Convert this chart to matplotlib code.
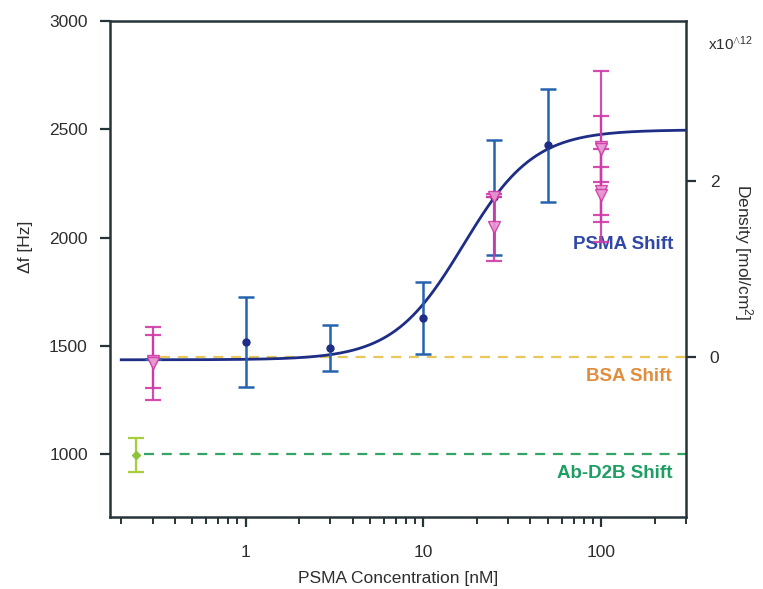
import numpy as np
import matplotlib
matplotlib.use("Agg")
import matplotlib.pyplot as plt

plt.rcParams['font.family'] = ['Liberation Sans', 'DejaVu Sans']
plt.rcParams['mathtext.fontset'] = 'custom'
plt.rcParams['mathtext.rm'] = 'Liberation Sans'
plt.rcParams['mathtext.it'] = 'Liberation Sans'

# PSMA binding (frequency shift, Hz)
psma_conc = [0.3, 1, 3, 10, 25, 50]
psma_shift = [1438, 1518, 1490, 1628, 2186, 2426]
psma_err = [0, 208, 106, 166, 267, 261]

# Replicate measurements (density, shown on the Hz scale)
rep_conc = [0.3, 0.3, 25, 25, 100, 100, 100, 100]
rep_shift = [1430, 1420, 2186, 2047, 2420, 2410, 2215, 2195]
rep_err = [122, 168, 0, 155, 350, 152, 110, 215]

# Ab-D2B control
ab_conc = [0.243]
ab_shift = [995]
ab_err = [78]

# Reference levels
bsa_level = 1450
ab_level = 1000

# Hill fit of the PSMA response
fit_base = 1436
fit_amp = 1062
fit_k = 16.8
fit_n = 2.19

# Right-hand density axis: Hz value = offset + scale * density(1e12 mol/cm^2)
dens_offset = 1447
dens_scale = 407.5
dens_ticks = [0, 2]

x_ticks = [1, 10, 100]
y_ticks = [1000, 1500, 2000, 2500, 3000]

spine_c = '#26343a'
text_c = '#2e2e2e'
navy = '#1e2d86'
blue = '#2563ad'
pink = '#cf3aa6'
pink_face = '#e99ad3'

fig = plt.figure(figsize=(7.63, 5.89), dpi=100)
ax = fig.add_axes([0.1442, 0.1222, 0.755, 0.842])

ax.set_xscale('log')
ax.set_xlim(0.173, 300)
ax.set_ylim(710, 3000)

# dashed reference lines
ax.plot([0.33, 300], [bsa_level, bsa_level], ls=(0, (4.5, 3.5)), lw=1.6,
        color='#e9c75a', zorder=1)
ax.plot([0.27, 300], [ab_level, ab_level], ls=(0, (4.5, 3.5)), lw=1.6,
        color='#35a566', zorder=1)

# fit curve
xf = np.logspace(np.log10(0.2), np.log10(300), 400)
yf = fit_base + fit_amp * xf**fit_n / (fit_k**fit_n + xf**fit_n)
ax.plot(xf, yf, color=navy, lw=2.0, zorder=3)

# PSMA points
ax.errorbar(psma_conc, psma_shift, yerr=psma_err, fmt='o', ms=5,
            color=blue, mfc=navy, mec=navy, ecolor=blue, elinewidth=1.8,
            capsize=6, capthick=1.8, zorder=4)

# replicate points
ax.errorbar(rep_conc, rep_shift, yerr=rep_err, fmt='v', ms=8,
            mfc=pink_face, mec=pink, ecolor=pink, elinewidth=1.6,
            capsize=6, capthick=1.6, zorder=5, alpha=0.9)

# Ab-D2B point
ax.errorbar(ab_conc, ab_shift, yerr=ab_err, fmt='D', ms=4,
            color='#8cc43c', ecolor='#a8cf3a', elinewidth=1.6,
            capsize=6, capthick=1.6, zorder=5)

# labels inside the plot
ax.text(255, 1968, 'PSMA Shift', color='#2f48a8', fontsize=13.5,
        fontweight='bold', ha='right', va='center')
ax.text(250, 1357, 'BSA Shift', color='#e28c3e', fontsize=13.5,
        fontweight='bold', ha='right', va='center')
ax.text(252, 912, 'Ab-D2B Shift', color='#1f9e64', fontsize=13.5,
        fontweight='bold', ha='right', va='center')

# spines and ticks
for s in ax.spines.values():
    s.set_color(spine_c)
    s.set_linewidth(1.8)
ax.set_xticks(x_ticks)
ax.set_xticklabels([str(t) for t in x_ticks])
ax.set_yticks(y_ticks)
ax.tick_params(axis='both', which='major', direction='out', length=7,
               width=1.6, color=spine_c, labelsize=12.5, labelcolor=text_c)
ax.tick_params(axis='x', which='major', pad=13)
ax.tick_params(axis='y', which='major', pad=9)
ax.tick_params(axis='x', which='minor', direction='out', length=5,
               width=1.4, color=spine_c)
ax.tick_params(axis='y', which='minor', left=False)
ax.set_xlabel('PSMA Concentration [nM]', fontsize=12.5, color=text_c,
              labelpad=8)
ax.set_ylabel('Δf [Hz]', fontsize=12.5, color=text_c)
ax.yaxis.set_label_coords(-0.134, 0.544)

# density axis on the right
ax2 = ax.twinx()
lo, hi = ax.get_ylim()
ax2.set_ylim((lo - dens_offset) / dens_scale, (hi - dens_offset) / dens_scale)
ax2.set_yticks(dens_ticks)
ax2.tick_params(axis='y', direction='out', length=7, width=1.6,
                color=spine_c, labelsize=12.5, labelcolor=text_c, pad=10)
for s in ax2.spines.values():
    s.set_visible(False)
ax2.set_ylabel('Density [mol/cm$^2$]', fontsize=12.5, color=text_c,
               rotation=270, va='center')
ax2.yaxis.set_label_coords(1.099, 0.534)
fig.text(0.928, 0.925, r'x10$^{\wedge 12}$', fontsize=11, color=text_c,
         ha='left', va='center')

fig.savefig('out.png', dpi=100)
